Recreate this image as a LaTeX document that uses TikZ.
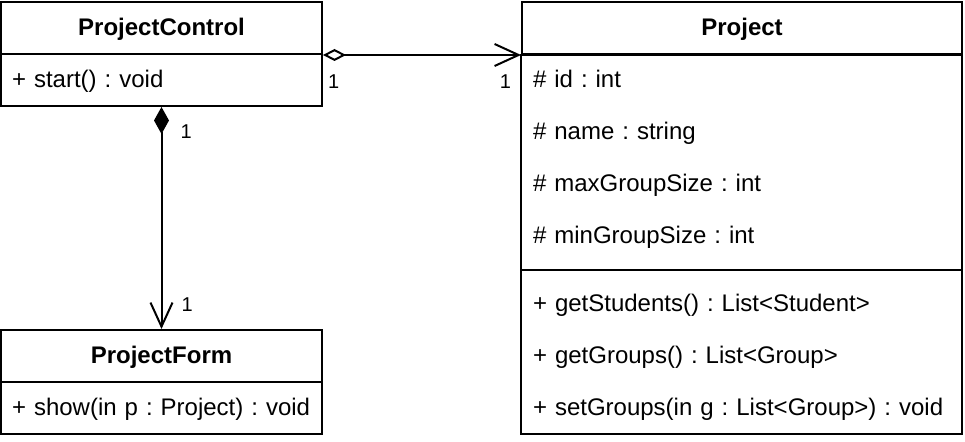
\documentclass[tikz,border=0pt]{standalone}
\usepackage{fontspec}
\setmainfont{Liberation Sans}
\usepackage{tikz}
\usetikzlibrary{shapes,arrows.meta}
\tikzstyle{classhead} = [rectangle, draw, line width = 1pt, font = \fontsize{12}{14}\selectfont\bfseries, text height = 9pt, text depth = 1.5pt, inner sep = 0pt, minimum height = 26pt]
\tikzstyle{member} = [rectangle, align = left, text height = 9pt, text depth = 1.5pt, inner xsep = 5.5pt, inner ysep = 0pt, minimum height = 26pt]
\tikzstyle{smallclass} = [minimum width = 160.5pt]
\tikzstyle{smallmember} = [text width = 149.5pt]
\tikzstyle{bigclass} = [minimum width = 220pt]
\tikzstyle{bigmember} = [text width = 209pt]
\tikzstyle{mult} = [font = \fontsize{10}{12}\selectfont, inner sep = 1pt]
\tikzstyle{aggregation} = [line width = 1pt, {Diamond[open, length = 11.5pt, width = 6pt]}-{Straight Barb[length = 12pt, width = 11pt]}]
\tikzstyle{composition} = [line width = 1pt, {Diamond[length = 13.5pt, width = 7.5pt]}-{Straight Barb[length = 12pt, width = 11pt]}]

\begin{document}
\frenchspacing
\begin{tikzpicture}
\tikzstyle{every node}=[font=\fontsize{12}{14}\selectfont];
\useasboundingbox (0,0) rectangle (482.5pt,-221pt);
% ProjectControl
\node [classhead, smallclass] at (80.75pt,-14pt) (pchead) {ProjectControl};
\node [member, smallmember, draw, line width = 1pt, below of = pchead, node distance = 26pt] (pcstart) {+ start() : void};
% ProjectForm
\node [classhead, smallclass] at (80.75pt,-178pt) (pfhead) {ProjectForm};
\node [member, smallmember, draw, line width = 1pt, below of = pfhead, node distance = 26pt] (pfshow) {+ show(in p : Project) : void};
% Project
\node [classhead, bigclass] at (371pt,-14pt) (phead) {Project};
\node [member, bigmember, below of = phead, node distance = 26pt] (pid) {\# id : int};
\node [member, bigmember, below of = pid, node distance = 26pt] (pname) {\# name : string};
\node [member, bigmember, below of = pname, node distance = 26pt] (pmax) {\# maxGroupSize : int};
\node [member, bigmember, below of = pmax, node distance = 26pt] (pmin) {\# minGroupSize : int};
\node [member, bigmember, minimum height = 8pt, below of = pmin, node distance = 17pt] (pdiv) {};
\node [member, bigmember, below of = pdiv, node distance = 17pt] (pstudents) {+ getStudents() : List<Student>};
\node [member, bigmember, below of = pstudents, node distance = 26pt] (pgroups) {+ getGroups() : List<Group>};
\node [member, bigmember, below of = pgroups, node distance = 26pt] (psetgroups) {+ setGroups(in g : List<Group>) : void};
\draw [line width = 1pt] (phead.south west) rectangle (psetgroups.south east);
\draw [line width = 1pt] (pdiv.west) -- (pdiv.east);
% associations
\draw [aggregation] (pchead.south east) -- (phead.south west)
  node [mult, pos = 0, below right, xshift = 1pt, yshift = -8.5pt] (mpc) {1}
  node [mult, pos = 1, below left, xshift = -3.5pt, yshift = -8.5pt] (mp) {1};
\draw [composition] (pcstart.south) -- (pfhead.north)
  node [mult, pos = 0, below right, xshift = 8pt, yshift = -7.5pt] (mpcf) {1}
  node [mult, pos = 1, above right, xshift = 8.5pt, yshift = 7pt] (mpf) {1};
\end{tikzpicture}
\end{document}
